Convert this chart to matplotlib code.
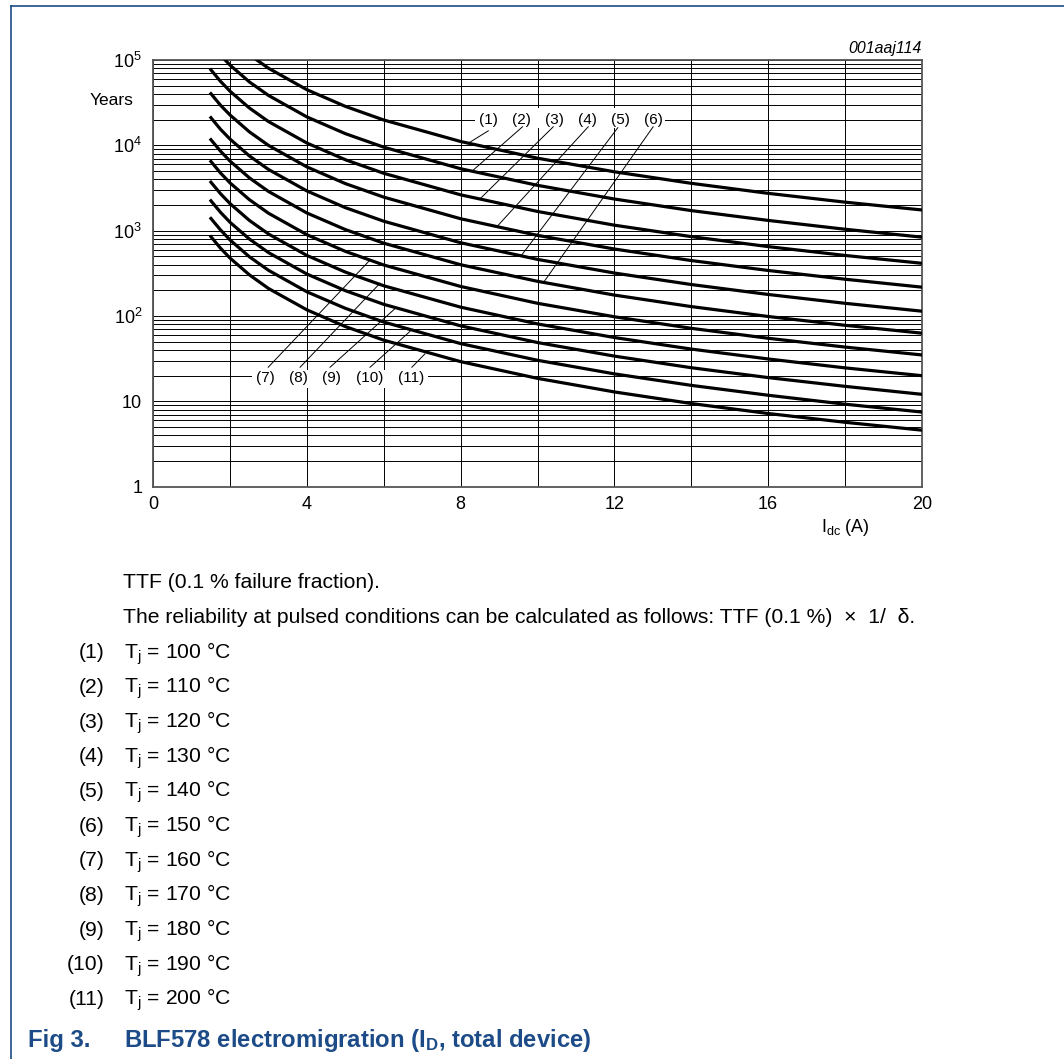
import matplotlib
matplotlib.use('Agg')
import matplotlib.pyplot as plt
from matplotlib.patches import Rectangle
from matplotlib.lines import Line2D
from matplotlib.ticker import FixedLocator, FixedFormatter, MultipleLocator, LogLocator, NullFormatter

plt.rcParams['font.family'] = 'Liberation Sans'
plt.rcParams['mathtext.fontset'] = 'custom'
plt.rcParams['mathtext.rm'] = 'Liberation Sans'
plt.rcParams['mathtext.it'] = 'Liberation Sans:italic'
plt.rcParams['mathtext.bf'] = 'Liberation Sans:bold'

# drain current (A) where the curves were read
current = [1.5, 1.75, 2, 2.5, 3, 4, 5, 6, 8, 10, 12, 14, 16, 18, 20]

# time to failure (years), one list per junction temperature
ttf_100 = [None, None, None, 115500, 80000, 44800, 28600, 19800, 11090, 7070, 4900, 3590, 2740, 2160, 1750]
ttf_110 = [None, 113800, 86900, 55400, 38400, 21500, 13700, 9510, 5320, 3400, 2350, 1720, 1320, 1040, 840]
ttf_120 = [76700, 56200, 42950, 27400, 18970, 10630, 6780, 4700, 2630, 1680, 1160, 852, 651, 513, 415]
ttf_130 = [40300, 29500, 22600, 14400, 9970, 5580, 3560, 2470, 1380, 881, 610, 447, 342, 270, 218]
ttf_140 = [21100, 15400, 11800, 7520, 5210, 2920, 1860, 1290, 722, 461, 319, 234, 179, 141, 114]
ttf_150 = [11640, 8540, 6520, 4160, 2880, 1610, 1030, 713, 399, 255, 176, 129, 98.8, 77.9, 63]
ttf_160 = [6470, 4740, 3620, 2310, 1600, 896, 572, 396, 222, 141, 98, 71.8, 54.9, 43.3, 35]
ttf_170 = [3700, 2710, 2070, 1320, 914, 512, 327, 226, 127, 80.8, 56, 41, 31.4, 24.7, 20]
ttf_180 = [2240, 1640, 1250, 799, 553, 310, 198, 137, 76.7, 48.9, 33.9, 24.8, 19.0, 15.0, 12.1]
ttf_190 = [1390, 1020, 776, 495, 343, 192, 123, 84.9, 47.5, 30.3, 21.0, 15.4, 11.8, 9.27, 7.5]
ttf_200 = [850, 623, 476, 304, 210, 118, 75.2, 52.1, 29.2, 18.6, 12.9, 9.44, 7.21, 5.69, 4.6]

curves = [ttf_100, ttf_110, ttf_120, ttf_130, ttf_140, ttf_150,
          ttf_160, ttf_170, ttf_180, ttf_190, ttf_200]
temps = [100, 110, 120, 130, 140, 150, 160, 170, 180, 190, 200]

x_ticks = [0, 4, 8, 12, 16, 20]
y_ticks = [1, 10, 100, 1000, 10000, 100000]
y_tick_labels = ['1', '10', r'$\mathregular{10^2}$', r'$\mathregular{10^3}$',
                 r'$\mathregular{10^4}$', r'$\mathregular{10^5}$']

# label text position, leader start, leader end (data coords)
labels_top = [
    ('(1)', 8.72, (8.72, 14800), (8.20, 10600)),
    ('(2)', 9.59, (9.61, 16500), (8.31, 5050)),
    ('(3)', 10.43, (10.41, 16500), (8.50, 2350)),
    ('(4)', 11.30, (11.32, 16500), (8.94, 1110)),
    ('(5)', 12.15, (12.09, 16100), (9.59, 519)),
    ('(6)', 13.02, (13.01, 16500), (10.17, 252)),
]
labels_bottom = [
    ('(7)', 2.93, (2.99, 25.1), (5.64, 453)),
    ('(8)', 3.77, (3.82, 25.1), (5.90, 242)),
    ('(9)', 4.64, (4.60, 25.1), (6.29, 122)),
    ('(10)', 5.62, (5.64, 25.1), (6.68, 66)),
    ('(11)', 6.70, (6.73, 25.1), (7.07, 36)),
]

W, H = 1064, 1059
BLUE = '#1c4b87'


def px(x, y):
    """pixel position (from top-left) to figure fraction"""
    return x / W, 1 - y / H


fig = plt.figure(figsize=(W / 100, H / 100), dpi=100)
ax = fig.add_axes([153.3 / W, 1 - 486.7 / H, 768.4 / W, 426.7 / H])

ax.set_yscale('log')
ax.set_xlim(0, 20)
ax.set_ylim(1, 1e5)

ax.xaxis.set_major_locator(FixedLocator(x_ticks))
ax.xaxis.set_minor_locator(MultipleLocator(2))
ax.yaxis.set_major_locator(FixedLocator(y_ticks))
ax.yaxis.set_major_formatter(FixedFormatter(y_tick_labels))
ax.yaxis.set_minor_locator(LogLocator(base=10, subs=range(2, 10)))
ax.yaxis.set_minor_formatter(NullFormatter())
ax.tick_params(which='both', length=0)
ax.tick_params(axis='x', labelsize=13, pad=7)
ax.tick_params(axis='y', labelsize=13, pad=8)

ax.grid(which='both', color='black', lw=0.7)
ax.set_axisbelow(True)
for s in ax.spines.values():
    s.set_color('#555555')
    s.set_linewidth(1.3)

for vals in curves:
    xs = [c for c, v in zip(current, vals) if v is not None]
    ys = [v for v in vals if v is not None]
    ax.plot(xs, ys, color='black', lw=2.3, zorder=3)

# white boxes behind the label rows
ax.add_patch(Rectangle((8.38, 15800), 13.32 - 8.38, 27200 - 15800,
                       facecolor='white', edgecolor='none', zorder=2))
ax.add_patch(Rectangle((2.56, 14.2), 7.16 - 2.56, 23.3 - 14.2,
                       facecolor='white', edgecolor='none', zorder=2))

for text, lx, p0, p1 in labels_top:
    ax.text(lx, 20000, text, fontsize=11, ha='center', va='center', zorder=5)
    ax.plot([p0[0], p1[0]], [p0[1], p1[1]], color='black', lw=0.7, zorder=4)
for text, lx, p0, p1 in labels_bottom:
    ax.text(lx, 19, text, fontsize=11, ha='center', va='center', zorder=5)
    ax.plot([p0[0], p1[0]], [p0[1], p1[1]], color='black', lw=0.7, zorder=4)

fig.text(*px(133.3, 105), 'Years', fontsize=12.5, ha='right', va='baseline')
fig.text(*px(921.7, 53.3), '001aaj114', fontsize=11.4, style='italic',
         ha='right', va='baseline')
fig.text(*px(845, 532), r'I$_\mathregular{dc}$ (A)', fontsize=13,
         ha='center', va='baseline')

fig.text(*px(123, 588.3), 'TTF (0.1 % failure fraction).', fontsize=15.2, va='baseline')
fig.text(*px(123, 622.7),
         'The reliability at pulsed conditions can be calculated as follows: '
         'TTF (0.1 %)  \u00d7  1/  \u03b4.', fontsize=15.2, va='baseline')
for i, t in enumerate(temps):
    yb = 658.3 + i * 34.67
    fig.text(*px(104.6, yb), '(%d)' % (i + 1), fontsize=15.2, ha='right', va='baseline')
    fig.text(*px(124, yb), 'T$_\\mathregular{j}$ = %d \u00b0C' % t,
             fontsize=15.2, va='baseline')

fig.text(*px(28, 1046.7), 'Fig 3.', fontsize=17.2, fontweight='bold',
         color=BLUE, va='baseline')
fig.text(*px(124, 1046.7), r'BLF578 electromigration (I$_\mathregular{D}$, total device)',
         fontsize=17.2, fontweight='bold', color=BLUE, va='baseline')

# page frame
fig.add_artist(Line2D([11 / W, 1], [1 - 6 / H, 1 - 6 / H], color=BLUE, lw=1.2))
fig.add_artist(Line2D([11 / W, 11 / W], [0, 1 - 6 / H], color=BLUE, lw=1.2))

fig.savefig('out.png', dpi=100)
